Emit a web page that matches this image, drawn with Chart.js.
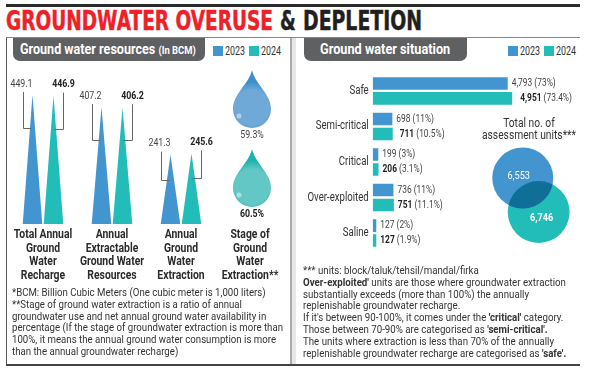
<!DOCTYPE html>
<html lang="en">
<head>
    <meta charset="UTF-8">
    <title>Groundwater overuse and depletion</title>
    <script src="https://cdn.jsdelivr.net/npm/chart.js"></script>
    <style>
        html, body { margin: 0; background: #fff; overflow: hidden; width: 600px; height: 371px; }
        body { position: relative; font-family: "Roboto", sans-serif; color: #333; }
        canvas { position: absolute; }
        .rule { position: absolute; }
        .fit { position: absolute; white-space: nowrap; transform-origin: left top; }
        .title { top: 5px; font: 700 26px/32px "DejaVu Sans", sans-serif; -webkit-text-stroke: 0.5px; }
        .pill { position: absolute; top: 38px; height: 23px; background: #5f6062; border-radius: 0 0 7px 7px; }
        .pilltext { top: 38px; color: #fff; font-weight: 700; font-size: 14px; line-height: 23px; }
        .pilltext small { font-size: 10.5px; }
        .swatch { position: absolute; top: 46px; width: 10px; height: 10px; }
        .key { top: 45px; font-size: 12px; line-height: 13px; }
        .note { font-size: 11.5px; line-height: 11.8px; color: #333; }
        .units { text-align: center; font-size: 12px; line-height: 11.5px; }
    </style>
</head>
<body>
    <div class="rule" style="left:6px;top:4px;width:574px;height:3px;background:#2b2b2b"></div>
    <div class="fit title" data-w="267" style="left:6px;color:#ee2028">GROUNDWATER OVERUSE</div>
    <div class="fit title" data-w="16" style="left:280px;color:#231f20">&amp;</div>
    <div class="fit title" data-w="119" style="left:303px;color:#231f20">DEPLETION</div>
    <div class="rule" style="left:6px;top:37px;width:574px;height:1px;background:#888"></div>
    <div class="rule" style="left:6px;top:38px;width:1px;height:326px;background:#555"></div>
    <div class="rule" style="left:290px;top:38px;width:2px;height:326px;background:#aaa"></div>
    <div class="rule" style="left:292px;top:38px;width:4px;height:326px;background:#e6e6e6"></div>
    <div class="rule" style="left:6px;top:364px;width:574px;height:2px;background:#444"></div>

    <div class="pill" style="left:13px;width:192px"></div>
    <div class="fit pilltext" data-w="176" style="left:20px">Ground water resources <small>(In BCM)</small></div>
    <div class="swatch" style="left:213px;background:#4395cf"></div><div class="fit key" data-w="20" style="left:225px">2023</div>
    <div class="swatch" style="left:249px;background:#22bdb9"></div><div class="fit key" data-w="20" style="left:261px">2024</div>

    <div class="pill" style="left:304px;width:163px"></div>
    <div class="fit pilltext" data-w="130" style="left:320px">Ground water situation</div>
    <div class="swatch" style="left:508px;background:#4395cf"></div><div class="fit key" data-w="20" style="left:520px">2023</div>
    <div class="swatch" style="left:544px;background:#22bdb9"></div><div class="fit key" data-w="20" style="left:556px">2024</div>

    <canvas id="resources" width="292" height="232" style="left:0;top:60px"></canvas>
    <canvas id="situation" width="294" height="200" style="left:296px;top:62px"></canvas>
    <canvas id="units" width="110" height="130" style="left:480px;top:130px"></canvas>

    <div class="fit units" data-w="94" style="left:482px;top:118px">Total no. of<br>assessment units***</div>

    <div class="fit note" data-w="271" style="left:12px;top:287px">
        *BCM: Billion Cubic Meters (One cubic meter is 1,000 liters)<br>
        **Stage of ground water extraction is a ratio of annual<br>
        groundwater use and net annual ground water availability in<br>
        percentage (If the stage of groundwater extraction is more than<br>
        100%, it means the annual ground water consumption is more<br>
        than the annual groundwater recharge)
    </div>
    <div class="fit note" data-w="263" style="left:303px;top:265px">
        *** units: block/taluk/tehsil/mandal/firka<br>
        <b>Over-exploited'</b> units are those where groundwater extraction<br>
        substantially exceeds (more than 100%) the annually<br>
        replenishable groundwater recharge.<br>
        If it's between 90-100%, it comes under the <b>'critical'</b> category.<br>
        Those between 70-90% are categorised as <b>'semi-critical'.</b><br>
        The units where extraction is less than 70% of the annually<br>
        replenishable groundwater recharge are categorised as <b>'safe'.</b>
    </div>

    <script>
        const years = ['2023', '2024'];

        // left panel, BCM
        const resourceCategories = ['Total Annual Ground Water Recharge', 'Annual Extractable Ground Water Resources', 'Annual Ground Water Extraction', 'Stage of Ground Water Extraction**'];
        const resourceTickLines = [
            ['Total Annual', 'Ground', 'Water', 'Recharge'],
            ['Annual', 'Extractable', 'Ground Water', 'Resources'],
            ['Annual', 'Ground', 'Water', 'Extraction'],
            ['Stage of', 'Ground', 'Water', 'Extraction**']
        ];
        const resources2023 = [449.1, 407.2, 241.3, null];
        const resources2024 = [446.9, 406.2, 245.6, null];
        const stageValues = [59.3, 60.5];

        // right panel, assessment units
        const situationLabels = ['Safe', 'Semi-critical', 'Critical', 'Over-exploited', 'Saline'];
        const situation2023 = [4793, 698, 199, 736, 127];
        const situation2024 = [4951, 711, 206, 751, 127];
        const share2023 = ['73%', '11%', '3%', '11%', '2%'];
        const share2024 = ['73.4%', '10.5%', '3.1%', '11.1%', '1.9%'];

        const totalUnits = [6553, 6746];

        const BLUE = '#4395cf';
        const TEAL = '#22bdb9';
        const FONT = 'Roboto, sans-serif';
        const SQUEEZE = 0.8;

        // no condensed font installed, so squeeze the html text to the original widths
        document.querySelectorAll('.fit').forEach(el => {
            el.style.transform = 'scaleX(' + (el.dataset.w / el.offsetWidth) + ')';
        });

        // same for everything the charts write on their canvas
        Chart.register({
            id: 'condensed',
            beforeInit(chart) {
                const ctx = chart.ctx;
                const fill = ctx.fillText.bind(ctx);
                ctx.fillText = (text, x, y) => {
                    ctx.save();
                    ctx.translate(x, y);
                    ctx.scale(SQUEEZE, 1);
                    fill(text, 0, 0);
                    ctx.restore();
                };
            }
        });

        // water drop used as the point style of the stage datasets
        function makeDrop(edge, middle) {
            const c = document.createElement('canvas');
            c.width = 44;
            c.height = 71;
            const g = c.getContext('2d');
            const cx = 24, cy = 39, r = 19;
            g.beginPath();
            g.moveTo(cx, 0);
            g.bezierCurveTo(cx + 3, 14, cx + r, 24, cx + r, cy);
            g.arc(cx, cy, r, 0, Math.PI);
            g.bezierCurveTo(cx - r, 24, cx - 3, 14, cx, 0);
            g.closePath();
            const fill = g.createRadialGradient(cx, cy - 4, 3, cx, cy, 27);
            fill.addColorStop(0, middle);
            fill.addColorStop(0.6, middle);
            fill.addColorStop(1, edge);
            g.fillStyle = fill;
            g.fill();
            g.fillStyle = 'rgba(255,255,255,0.45)';
            g.beginPath();
            g.arc(cx - 13, cy + 7, 2.5, 0, Math.PI * 2);
            g.fill();
            return c;
        }

        // bars of the left chart are drawn as spikes, with bracket and value above
        const bracketDepth = [33, 33, 25];
        const spikes = {
            id: 'spikes',
            afterDatasetsDraw(chart) {
                const ctx = chart.ctx;
                [0, 1].forEach(d => {
                    const ds = chart.data.datasets[d];
                    chart.getDatasetMeta(d).data.forEach((bar, i) => {
                        if (ds.data[i] === null) return;
                        const half = bar.width / 2;
                        ctx.fillStyle = ds.spikeColor;
                        ctx.beginPath();
                        ctx.moveTo(bar.x - half, bar.base);
                        ctx.lineTo(bar.x, bar.y);
                        ctx.lineTo(bar.x + half, bar.base);
                        ctx.closePath();
                        ctx.fill();

                        const side = d === 0 ? -1 : 1;
                        const edge = Math.round(bar.x + side * half) + 0.5;
                        const top = bar.y - 3;
                        const low = Math.round(bar.y + bracketDepth[i]) + 0.5;
                        ctx.strokeStyle = '#666';
                        ctx.lineWidth = 1;
                        ctx.beginPath();
                        ctx.moveTo(edge, top);
                        ctx.lineTo(edge, low);
                        ctx.lineTo(bar.x + side * 1, low);
                        ctx.stroke();

                        ctx.textAlign = 'center';
                        ctx.textBaseline = 'middle';
                        ctx.fillStyle = d === 0 ? '#444' : '#222';
                        ctx.font = (d === 0 ? '' : 'bold ') + '11px ' + FONT;
                        ctx.fillText(ds.data[i].toFixed(1), edge - (d === 0 ? 2 : 0), bar.y - 11);
                    });
                });
                [2, 3].forEach(d => {
                    const point = chart.getDatasetMeta(d).data[0];
                    ctx.textAlign = 'center';
                    ctx.textBaseline = 'middle';
                    ctx.fillStyle = d === 2 ? '#444' : '#222';
                    ctx.font = (d === 2 ? '' : 'bold ') + '11px ' + FONT;
                    ctx.fillText(stageValues[d - 2] + '%', point.x + 2, point.y + 30);
                });
            }
        };

        new Chart(document.getElementById('resources'), {
            type: 'bar',
            data: {
                labels: resourceCategories,
                datasets: [
                    { label: '2023', data: resources2023, backgroundColor: 'transparent', spikeColor: BLUE, categoryPercentage: 0.609, barPercentage: 0.93 },
                    { label: '2024', data: resources2024, backgroundColor: 'transparent', spikeColor: TEAL, categoryPercentage: 0.609, barPercentage: 0.93 },
                    { type: 'line', label: 'Stage 2023', showLine: false, yAxisID: 'stage', data: [{ x: resourceCategories[3], y: years[0] }], pointStyle: makeDrop('#3f8fcb', '#6fa9d8') },
                    { type: 'line', label: 'Stage 2024', showLine: false, yAxisID: 'stage', data: [{ x: resourceCategories[3], y: years[1] }], pointStyle: makeDrop('#1fb3b0', '#62c7c5') }
                ]
            },
            options: {
                responsive: false,
                animation: false,
                layout: { padding: { left: 8.5, right: 7.5, top: 6, bottom: 0 } },
                plugins: { legend: { display: false }, tooltip: { enabled: false } },
                scales: {
                    x: {
                        grid: { display: false, drawTicks: false },
                        border: { display: false },
                        afterFit: s => { s.height = 68; },
                        ticks: {
                            autoSkip: false,
                            maxRotation: 0,
                            padding: 4,
                            color: '#2b2b2b',
                            font: { family: FONT, size: 13, weight: 'bold', lineHeight: 1.04 },
                            callback: (v, i) => resourceTickLines[i]
                        }
                    },
                    y: { display: false, min: 0, max: 550 },
                    stage: { type: 'category', labels: years, offset: true, display: false }
                }
            },
            plugins: [spikes]
        });

        // "4,793 (73%)" style labels, 2024 has the number in bold
        const labelNudge = [4, 3, 0, 0, 0];
        const barLabels = {
            id: 'barLabels',
            afterDatasetsDraw(chart) {
                const ctx = chart.ctx;
                ctx.textBaseline = 'middle';
                ctx.textAlign = 'left';
                chart.getDatasetMeta(0).data.forEach((bar, i) => {
                    ctx.fillStyle = '#444';
                    ctx.font = '10.5px ' + FONT;
                    ctx.fillText(situation2023[i].toLocaleString('en-US') + ' (' + share2023[i] + ')', bar.x + 4, bar.y);
                });
                chart.getDatasetMeta(1).data.forEach((bar, i) => {
                    const num = situation2024[i].toLocaleString('en-US');
                    const x = bar.x + 4 + labelNudge[i];
                    ctx.fillStyle = '#222';
                    ctx.font = 'bold 10.5px ' + FONT;
                    ctx.fillText(num, x, bar.y);
                    const w = ctx.measureText(num).width * SQUEEZE;
                    ctx.fillStyle = '#444';
                    ctx.font = '10.5px ' + FONT;
                    ctx.fillText(' (' + share2024[i] + ')', x + w, bar.y);
                });
            }
        };

        new Chart(document.getElementById('situation'), {
            type: 'bar',
            data: {
                labels: situationLabels,
                datasets: [
                    { label: '2023', data: situation2023, backgroundColor: BLUE, categoryPercentage: 0.838, barPercentage: 0.844 },
                    { label: '2024', data: situation2024, backgroundColor: TEAL, categoryPercentage: 0.838, barPercentage: 0.844 }
                ]
            },
            options: {
                indexAxis: 'y',
                responsive: false,
                animation: false,
                layout: { padding: { left: 0, right: 20.1, top: 6.4, bottom: 2.6 } },
                plugins: { legend: { display: false }, tooltip: { enabled: false } },
                scales: {
                    x: { display: false, min: 0, max: 7000 },
                    y: {
                        grid: { display: false, drawTicks: false },
                        border: { display: false },
                        afterFit: s => { s.width = 76.7; },
                        ticks: {
                            padding: 4,
                            color: '#333',
                            font: { family: FONT, size: 12 }
                        }
                    }
                }
            },
            plugins: [barLabels]
        });

        // overlapping circles, dark lens where they meet
        const lens = {
            id: 'lens',
            afterDatasetsDraw(chart) {
                const ctx = chart.ctx;
                const a = chart.getDatasetMeta(0).data[0];
                const b = chart.getDatasetMeta(1).data[0];
                ctx.save();
                ctx.beginPath();
                ctx.arc(a.x, a.y, a.options.radius, 0, Math.PI * 2);
                ctx.clip();
                ctx.fillStyle = '#0f6f96';
                ctx.beginPath();
                ctx.arc(b.x, b.y, b.options.radius, 0, Math.PI * 2);
                ctx.fill();
                ctx.restore();

                ctx.fillStyle = '#fff';
                ctx.textAlign = 'center';
                ctx.textBaseline = 'middle';
                ctx.font = '11.5px ' + FONT;
                ctx.fillText(totalUnits[0].toLocaleString('en-US'), a.x - 4, a.y - 2);
                ctx.font = 'bold 11.5px ' + FONT;
                ctx.fillText(totalUnits[1].toLocaleString('en-US'), b.x + 3, b.y + 6);
            }
        };

        new Chart(document.getElementById('units'), {
            type: 'bubble',
            data: {
                datasets: [
                    { label: '2023', clip: false, backgroundColor: BLUE, borderWidth: 0, data: [{ x: years[0], y: years[0], r: Math.sqrt(totalUnits[0]) * 0.3768 }] },
                    { label: '2024', clip: false, backgroundColor: TEAL, borderWidth: 0, data: [{ x: years[1], y: years[1], r: Math.sqrt(totalUnits[1]) * 0.3768 }] }
                ]
            },
            options: {
                responsive: false,
                animation: false,
                layout: { padding: { left: 34.8, right: 43.4, top: 23.4, bottom: 18.2 } },
                plugins: { legend: { display: false }, tooltip: { enabled: false } },
                scales: {
                    x: { type: 'category', labels: years, offset: true, display: false },
                    y: { type: 'category', labels: years, offset: true, display: false }
                }
            },
            plugins: [lens]
        });
    </script>
</body>
</html>
